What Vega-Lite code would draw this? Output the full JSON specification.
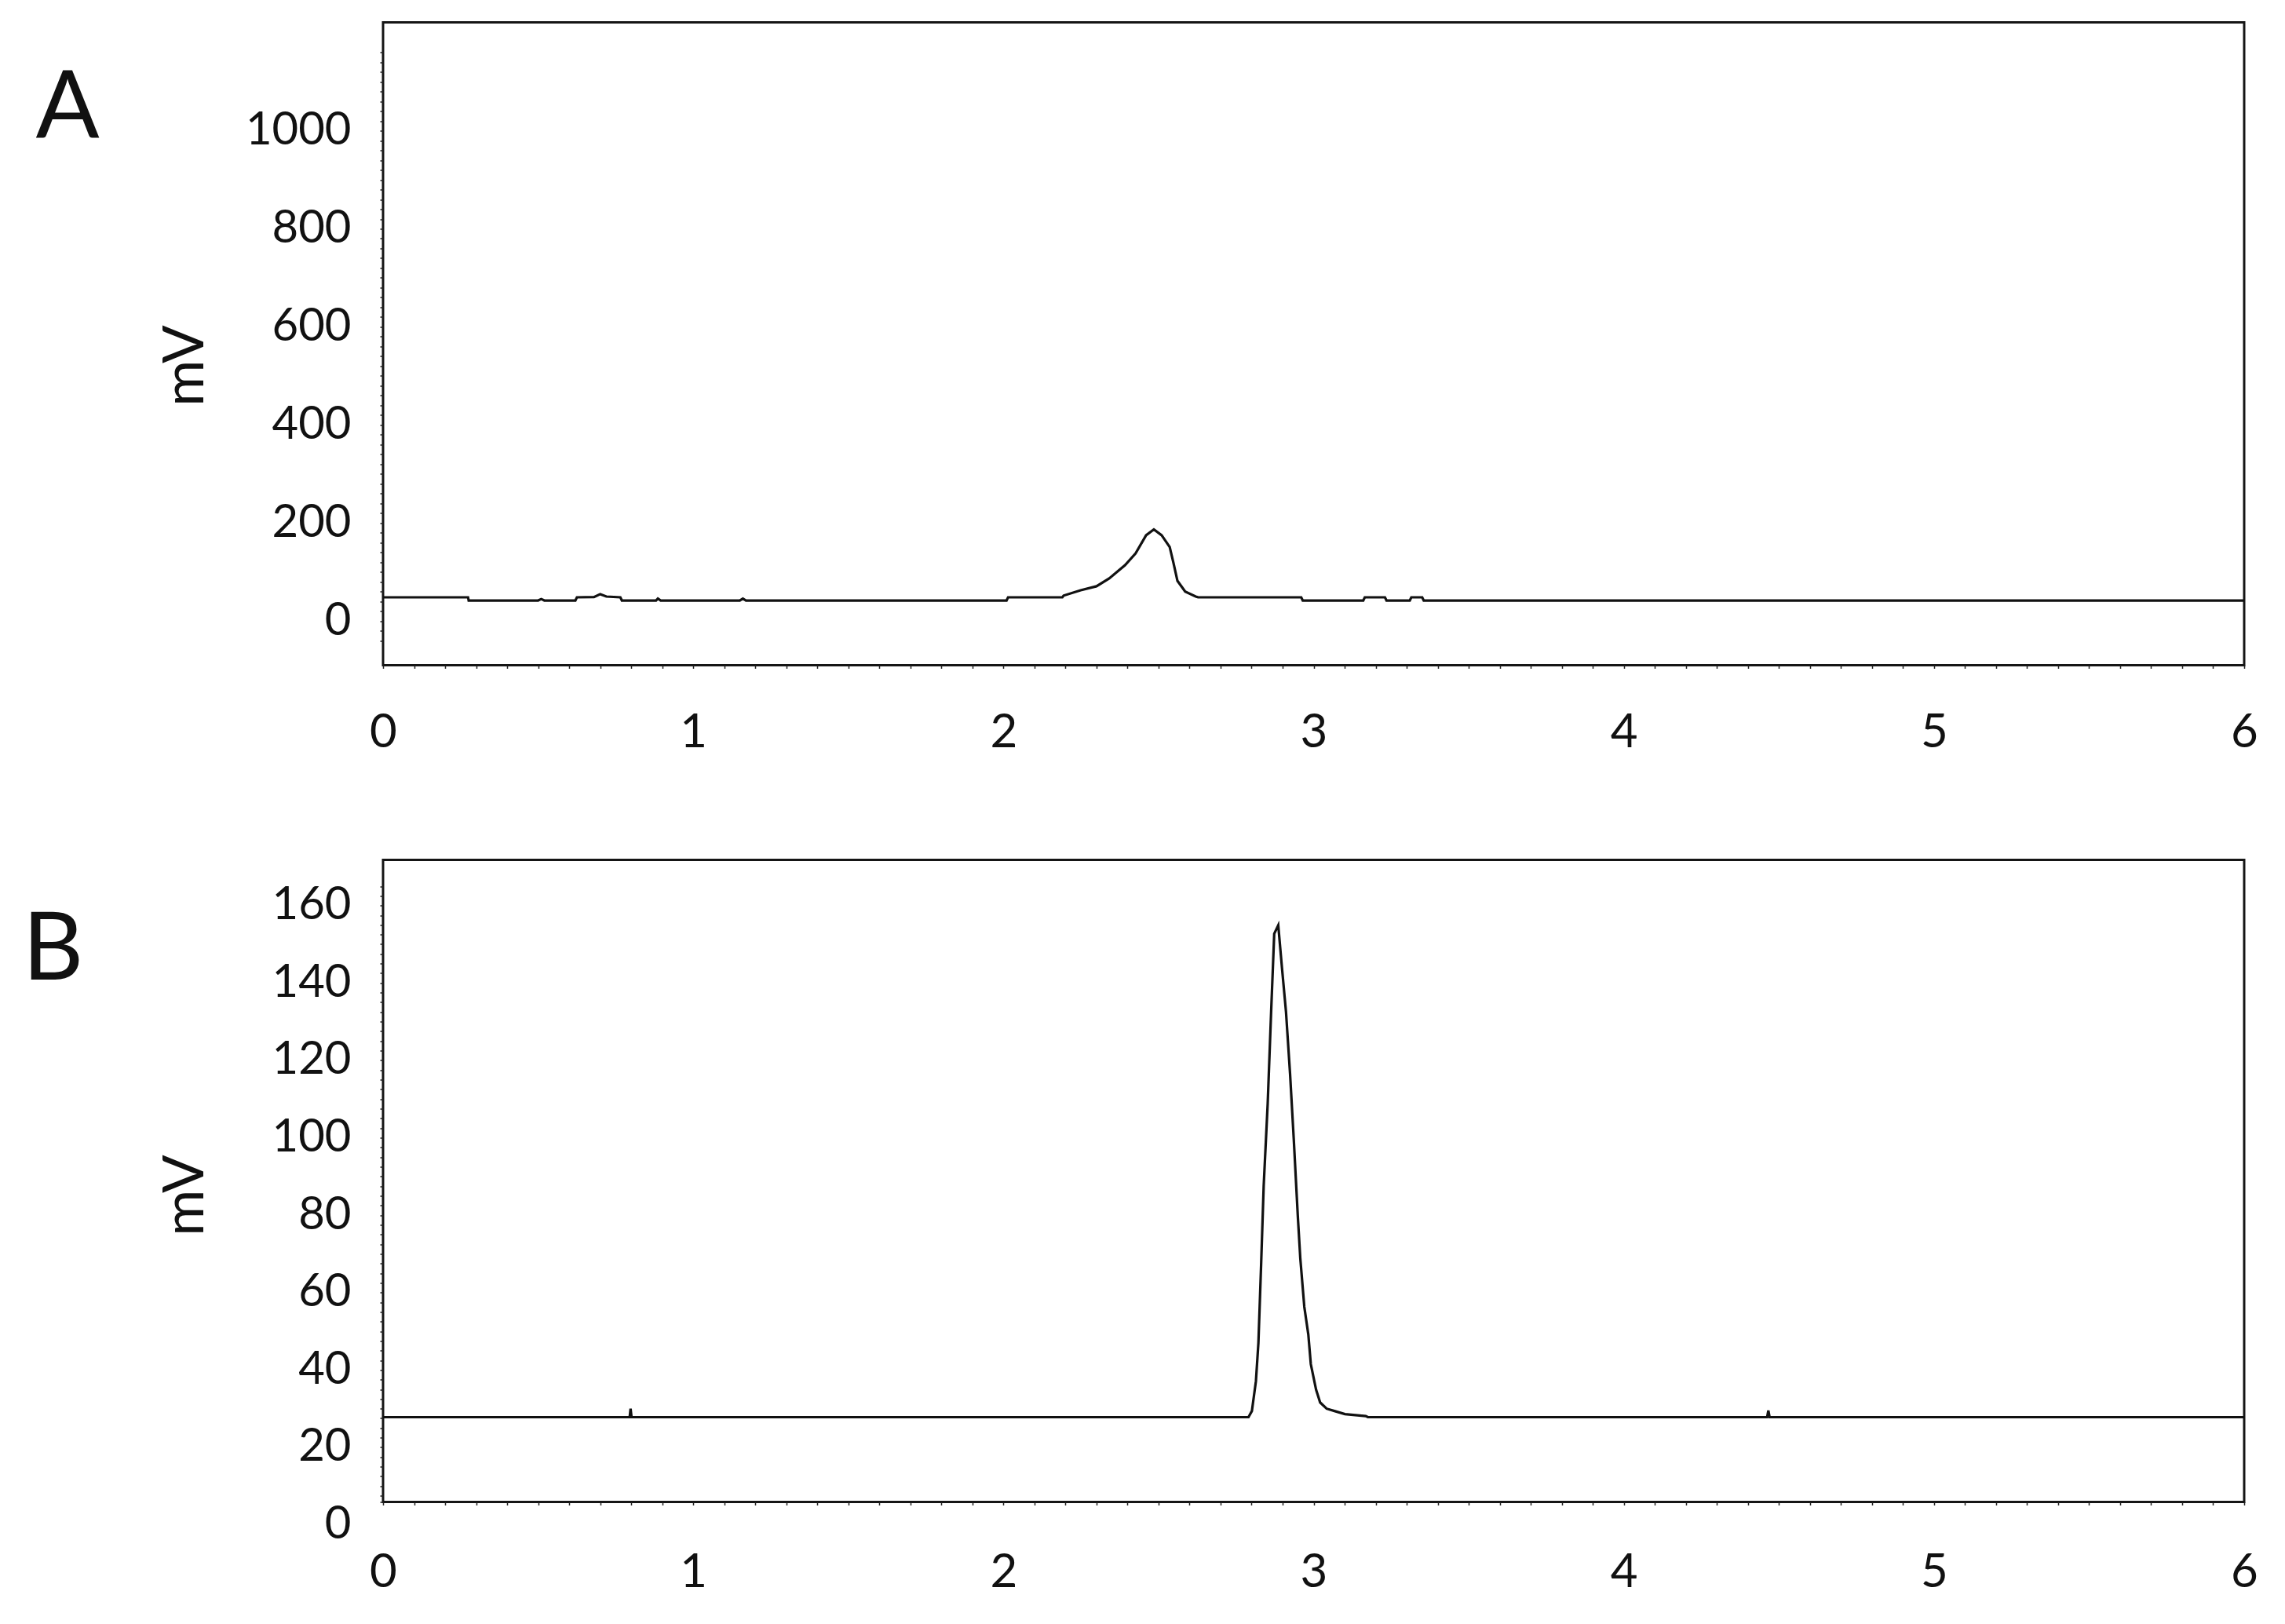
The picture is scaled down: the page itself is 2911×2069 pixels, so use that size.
{
  "$schema": "https://vega.github.io/schema/vega-lite/v6.json",
  "background": "white",
  "padding": {"left": 27, "top": 26.5, "right": 0, "bottom": 0},
  "autosize": {"type": "pad"},
  "spacing": 248,
  "bounds": "flush",
  "config": {
    "view": {"stroke": "#151515", "strokeWidth": 3},
    "axis": {"grid": false, "domain": false, "tickColor": "#222", "tickSize": 4, "tickWidth": 1.5, "labelFont": "Lato", "labelColor": "#111", "titleFont": "Lato", "titleColor": "#111", "titleFontWeight": "normal", "labelOverlap": false, "labelFlush": false},
    "axisX": {"labelFontSize": 60, "labelPadding": 53, "title": null},
    "axisY": {"labelFontSize": 58, "labelPadding": 37, "titleFontSize": 72}
  },
  "datasets": {
    "a": [
      {"t": 0, "mV": 48.5}, {"t": 0.274, "mV": 48.5}, {"t": 0.276, "mV": 42},
      {"t": 0.5, "mV": 42}, {"t": 0.51, "mV": 45}, {"t": 0.52, "mV": 42},
      {"t": 0.62, "mV": 42}, {"t": 0.625, "mV": 48.5}, {"t": 0.68, "mV": 49},
      {"t": 0.7, "mV": 55}, {"t": 0.72, "mV": 50}, {"t": 0.765, "mV": 48.5},
      {"t": 0.77, "mV": 42}, {"t": 0.88, "mV": 42}, {"t": 0.886, "mV": 46},
      {"t": 0.895, "mV": 42}, {"t": 1.15, "mV": 42}, {"t": 1.16, "mV": 46},
      {"t": 1.17, "mV": 42}, {"t": 2.01, "mV": 42}, {"t": 2.015, "mV": 48.5},
      {"t": 2.19, "mV": 48.5}, {"t": 2.194, "mV": 52}, {"t": 2.249, "mV": 63},
      {"t": 2.3, "mV": 71}, {"t": 2.341, "mV": 87}, {"t": 2.392, "mV": 114},
      {"t": 2.426, "mV": 138}, {"t": 2.46, "mV": 175}, {"t": 2.485, "mV": 187},
      {"t": 2.51, "mV": 175}, {"t": 2.536, "mV": 151}, {"t": 2.548, "mV": 119},
      {"t": 2.561, "mV": 82}, {"t": 2.586, "mV": 60}, {"t": 2.62, "mV": 50},
      {"t": 2.628, "mV": 48.5}, {"t": 2.96, "mV": 48.5}, {"t": 2.965, "mV": 42},
      {"t": 3.16, "mV": 42}, {"t": 3.165, "mV": 48.5}, {"t": 3.23, "mV": 48.5},
      {"t": 3.235, "mV": 42}, {"t": 3.31, "mV": 42}, {"t": 3.315, "mV": 48.5},
      {"t": 3.35, "mV": 48.5}, {"t": 3.355, "mV": 42}, {"t": 6, "mV": 42}
    ],
    "b": [
      {"t": 0, "mV": 27.8}, {"t": 0.795, "mV": 27.8}, {"t": 0.798, "mV": 30},
      {"t": 0.801, "mV": 27.8}, {"t": 2.79, "mV": 27.8}, {"t": 2.801, "mV": 29.4},
      {"t": 2.814, "mV": 37.1}, {"t": 2.822, "mV": 47}, {"t": 2.831, "mV": 67.8},
      {"t": 2.839, "mV": 87.5}, {"t": 2.852, "mV": 108.9}, {"t": 2.863, "mV": 132.5},
      {"t": 2.873, "mV": 152.7}, {"t": 2.886, "mV": 154.9}, {"t": 2.898, "mV": 143.9},
      {"t": 2.911, "mV": 132.5}, {"t": 2.924, "mV": 116.6}, {"t": 2.936, "mV": 99.6},
      {"t": 2.949, "mV": 79.8}, {"t": 2.957, "mV": 68.9}, {"t": 2.97, "mV": 56.3},
      {"t": 2.983, "mV": 49.1}, {"t": 2.991, "mV": 41.5}, {"t": 3.008, "mV": 34.9},
      {"t": 3.021, "mV": 31.6}, {"t": 3.042, "mV": 30}, {"t": 3.067, "mV": 29.4},
      {"t": 3.101, "mV": 28.6}, {"t": 3.168, "mV": 28.1}, {"t": 3.175, "mV": 27.8},
      {"t": 4.462, "mV": 27.8}, {"t": 4.466, "mV": 29.5}, {"t": 4.47, "mV": 27.8},
      {"t": 6, "mV": 27.8}
    ]
  },
  "vconcat": [
    {
      "width": 2371,
      "height": 819,
      "title": {"text": "A", "anchor": "end", "frame": "group", "orient": "left", "angle": 0, "offset": -8, "dy": 52, "baseline": "top", "fontSize": 120, "font": "Lato", "fontWeight": "normal", "color": "#111"},
      "data": {"name": "a"},
      "mark": {"type": "line", "color": "#111", "strokeWidth": 3.2, "clip": true},
      "encoding": {
        "x": {"field": "t", "type": "quantitative", "scale": {"domain": [0, 6], "nice": false, "zero": false},
          "axis": {"values": [0,0.1,0.2,0.3,0.4,0.5,0.6,0.7,0.8,0.9,1,1.1,1.2,1.3,1.4,1.5,1.6,1.7,1.8,1.9,2,2.1,2.2,2.3,2.4,2.5,2.6,2.7,2.8,2.9,3,3.1,3.2,3.3,3.4,3.5,3.6,3.7,3.8,3.9,4,4.1,4.2,4.3,4.4,4.5,4.6,4.7,4.8,4.9,5,5.1,5.2,5.3,5.4,5.5,5.6,5.7,5.8,5.9,6],
            "labelExpr": "datum.value % 1 === 0 ? format(datum.value, 'd') : ''"}},
        "y": {"field": "mV", "type": "quantitative", "scale": {"domain": [-90, 1221], "nice": false, "zero": false},
          "axis": {"title": "mV", "titleX": -230, "titleY": 437, "titleBaseline": "alphabetic", "titleAlign": "center",
            "values": [-40,-20,0,20,40,60,80,100,120,140,160,180,200,220,240,260,280,300,320,340,360,380,400,420,440,460,480,500,520,540,560,580,600,620,640,660,680,700,720,740,760,780,800,820,840,860,880,900,920,940,960,980,1000,1020,1040,1060,1080,1100,1120,1140,1160],
            "labelExpr": "datum.value % 200 === 0 && datum.value <= 1000 ? format(datum.value, 'd') : ''"}}
      }
    },
    {
      "width": 2371,
      "height": 818,
      "title": {"text": "B", "anchor": "end", "frame": "group", "orient": "left", "angle": 0, "offset": 16, "dy": 57, "baseline": "top", "fontSize": 120, "font": "Lato", "fontWeight": "normal", "color": "#111"},
      "data": {"name": "b"},
      "mark": {"type": "line", "color": "#111", "strokeWidth": 3.2, "clip": true},
      "encoding": {
        "x": {"field": "t", "type": "quantitative", "scale": {"domain": [0, 6], "nice": false, "zero": false},
          "axis": {"labelPadding": 57, "values": [0,0.1,0.2,0.3,0.4,0.5,0.6,0.7,0.8,0.9,1,1.1,1.2,1.3,1.4,1.5,1.6,1.7,1.8,1.9,2,2.1,2.2,2.3,2.4,2.5,2.6,2.7,2.8,2.9,3,3.1,3.2,3.3,3.4,3.5,3.6,3.7,3.8,3.9,4,4.1,4.2,4.3,4.4,4.5,4.6,4.7,4.8,4.9,5,5.1,5.2,5.3,5.4,5.5,5.6,5.7,5.8,5.9,6],
            "labelExpr": "datum.value % 1 === 0 ? format(datum.value, 'd') : ''"}},
        "y": {"field": "mV", "type": "quantitative", "scale": {"domain": [5.9, 171.8], "nice": false, "zero": false},
          "axis": {"title": "mV", "titleX": -230, "titleY": 427, "titleBaseline": "alphabetic", "titleAlign": "center",
            "values": [6,7.5,10,12.5,15,17.5,20,22.5,25,27.5,30,32.5,35,37.5,40,42.5,45,47.5,50,52.5,55,57.5,60,62.5,65,67.5,70,72.5,75,77.5,80,82.5,85,87.5,90,92.5,95,97.5,100,102.5,105,107.5,110,112.5,115,117.5,120,122.5,125,127.5,130,132.5,135,137.5,140,142.5,145,147.5,150,152.5,155,157.5,160,162.5,165],
            "labelOffset": {"condition": {"test": "datum.value === 6", "value": 29}, "value": 0},
            "labelExpr": "datum.value === 6 ? '0' : (datum.value % 20 === 0 ? format(datum.value, 'd') : '')"}}
      }
    }
  ]
}
